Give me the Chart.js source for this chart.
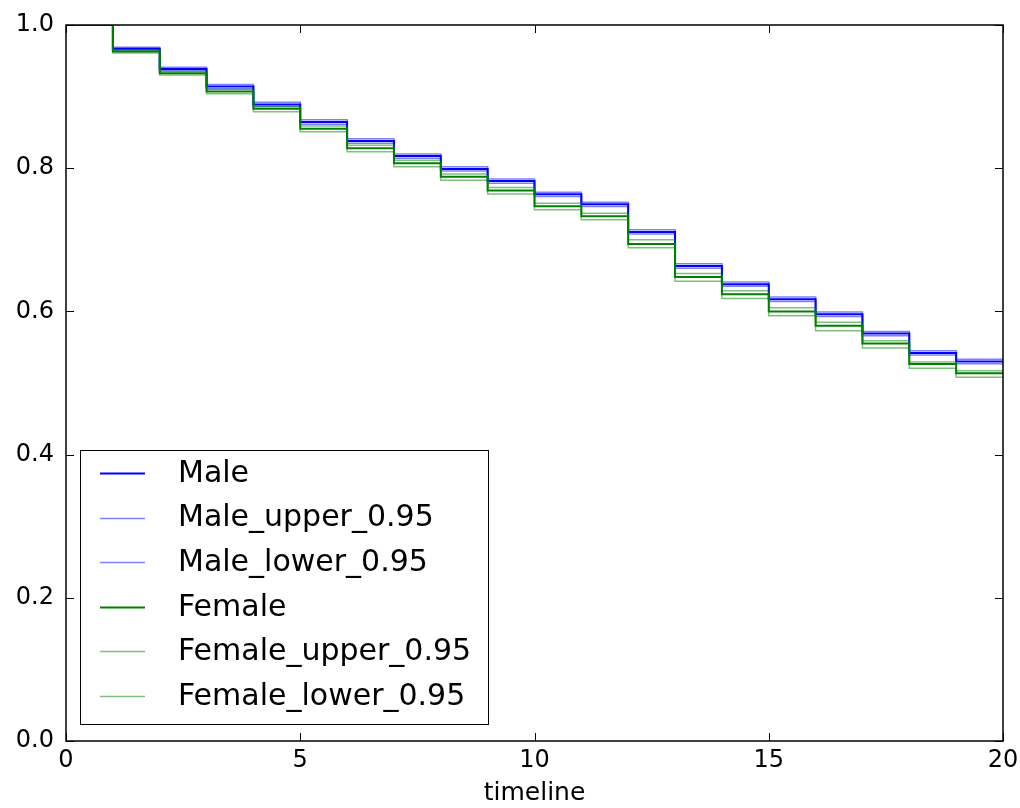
<!DOCTYPE html>
<html>
<head>
<meta charset="utf-8">
<script src="https://cdn.jsdelivr.net/npm/chart.js@4/dist/chart.umd.min.js"></script>
<style>
  html, body { margin: 0; padding: 0; background: #fff; }
  #wrap { width: 1020px; height: 808px; }
</style>
</head>
<body>
<div id="wrap"><canvas id="kmChart" width="1020" height="808"></canvas></div>
<script>
// timeline points (step values hold from x to x+1)
const timeline = [0, 1, 2, 3, 4, 5, 6, 7, 8, 9, 10, 11, 12, 13, 14, 15, 16, 17, 18, 19, 20];

const male = [1.0, 0.967, 0.9385, 0.914, 0.889, 0.8645, 0.838, 0.817, 0.799, 0.782, 0.7635, 0.7496, 0.711, 0.6634, 0.638, 0.617, 0.596, 0.569, 0.542, 0.530, 0.530];
const maleUpper = [1.0, 0.969, 0.941, 0.917, 0.892, 0.8675, 0.841, 0.820, 0.802, 0.785, 0.7665, 0.7526, 0.714, 0.6665, 0.641, 0.620, 0.599, 0.572, 0.545, 0.533, 0.533];
const maleLower = [1.0, 0.965, 0.936, 0.911, 0.886, 0.8615, 0.835, 0.814, 0.796, 0.779, 0.7605, 0.7466, 0.708, 0.6603, 0.635, 0.614, 0.593, 0.566, 0.539, 0.527, 0.527];

const female = [1.0, 0.963, 0.9325, 0.907, 0.883, 0.855, 0.828, 0.807, 0.788, 0.769, 0.747, 0.733, 0.694, 0.648, 0.624, 0.600, 0.580, 0.555, 0.5265, 0.5135, 0.5135];
const femaleUpper = [1.0, 0.965, 0.935, 0.910, 0.886, 0.859, 0.832, 0.811, 0.792, 0.773, 0.751, 0.737, 0.700, 0.653, 0.629, 0.605, 0.585, 0.559, 0.5295, 0.517, 0.517];
const femaleLower = [1.0, 0.961, 0.930, 0.904, 0.879, 0.851, 0.823, 0.802, 0.783, 0.764, 0.742, 0.728, 0.689, 0.642, 0.618, 0.594, 0.573, 0.549, 0.5205, 0.508, 0.508];

const xTicks = [0, 5, 10, 15, 20];
const yTicks = [0.0, 0.2, 0.4, 0.6, 0.8, 1.0];

const FONT = "'DejaVu Sans', sans-serif";

function pts(ys) {
  return timeline.map((x, i) => ({ x: x, y: ys[i] }));
}

function series(label, ys, color, width, order) {
  return {
    label: label,
    data: pts(ys),
    borderColor: color,
    borderWidth: width,
    stepped: true,
    pointRadius: 0,
    fill: false,
    order: order
  };
}

// frame + inward ticks like the old matplotlib style
const framePlugin = {
  id: "frame",
  afterDatasetsDraw(chart) {
    const { ctx, chartArea: a, scales } = chart;
    ctx.save();
    ctx.strokeStyle = "#000";
    ctx.lineWidth = 1;
    const tl = 8;
    xTicks.forEach(v => {
      const px = Math.round(scales.x.getPixelForValue(v)) + 0.5;
      ctx.beginPath();
      ctx.moveTo(px, a.bottom); ctx.lineTo(px, a.bottom - tl);
      ctx.moveTo(px, a.top); ctx.lineTo(px, a.top + tl);
      ctx.stroke();
    });
    yTicks.forEach(v => {
      const py = Math.round(scales.y.getPixelForValue(v)) + 0.5;
      ctx.beginPath();
      ctx.moveTo(a.left, py); ctx.lineTo(a.left + tl, py);
      ctx.moveTo(a.right, py); ctx.lineTo(a.right - tl, py);
      ctx.stroke();
    });
    ctx.lineWidth = 1.5;
    ctx.strokeRect(a.left, a.top, a.right - a.left, a.bottom - a.top);
    ctx.restore();
  }
};

// legend box in the lower left, drawn from the datasets
const legendPlugin = {
  id: "boxLegend",
  afterDraw(chart) {
    const ctx = chart.ctx;
    const ds = chart.data.datasets;
    ctx.save();
    ctx.fillStyle = "#fff";
    ctx.fillRect(80, 450, 408, 274);
    ctx.strokeStyle = "#000";
    ctx.lineWidth = 1;
    ctx.strokeRect(80.5, 450.5, 408, 274);
    ctx.font = "30px " + FONT;
    ctx.textBaseline = "middle";
    ds.forEach((d, i) => {
      const y = 473 + i * 44.6;
      ctx.strokeStyle = d.borderColor;
      ctx.lineWidth = d.borderWidth;
      ctx.beginPath();
      ctx.moveTo(100, Math.round(y) + 0.5);
      ctx.lineTo(145, Math.round(y) + 0.5);
      ctx.stroke();
      ctx.fillStyle = "#000";
      ctx.fillText(d.label, 178, y + 1);
    });
    ctx.restore();
  }
};

const bgPlugin = {
  id: "bg",
  beforeDraw(chart) {
    const ctx = chart.ctx;
    ctx.save();
    ctx.fillStyle = "#fff";
    ctx.fillRect(0, 0, chart.width, chart.height);
    ctx.restore();
  }
};

new Chart(document.getElementById("kmChart").getContext("2d"), {
  type: "line",
  data: {
    datasets: [
      series("Male", male, "rgb(0,0,255)", 2, 3),
      series("Male_upper_0.95", maleUpper, "rgba(0,0,255,0.5)", 1.5, 3),
      series("Male_lower_0.95", maleLower, "rgba(0,0,255,0.5)", 1.5, 3),
      series("Female", female, "rgb(0,128,0)", 2, 1),
      series("Female_upper_0.95", femaleUpper, "rgba(0,128,0,0.5)", 1.5, 2),
      series("Female_lower_0.95", femaleLower, "rgba(0,128,0,0.5)", 1.5, 2)
    ]
  },
  options: {
    responsive: false,
    animation: false,
    layout: { padding: { top: 25, right: 17, left: 0, bottom: 0 } },
    plugins: {
      legend: { display: false },
      tooltip: { enabled: false }
    },
    scales: {
      x: {
        type: "linear",
        min: 0,
        max: 20,
        afterBuildTicks: s => { s.ticks = xTicks.map(v => ({ value: v })); },
        afterFit: s => { s.height = 67; s.paddingLeft = 0; s.paddingRight = 0; },
        grid: { display: false, drawTicks: false },
        border: { display: false },
        ticks: {
          color: "#000",
          font: { family: FONT, size: 24 },
          padding: 5,
          maxRotation: 0,
          callback: v => String(v)
        },
        title: {
          display: true,
          text: "timeline",
          color: "#000",
          font: { family: FONT, size: 25 },
          padding: { top: 0, bottom: 0 }
        }
      },
      y: {
        type: "linear",
        min: 0,
        max: 1,
        afterBuildTicks: s => { s.ticks = yTicks.map(v => ({ value: v })); },
        afterFit: s => { s.width = 66; s.paddingTop = 0; s.paddingBottom = 0; },
        grid: { display: false, drawTicks: false },
        border: { display: false },
        ticks: {
          color: "#000",
          font: { family: FONT, size: 24 },
          padding: 12,
          callback: v => Number(v).toFixed(1)
        }
      }
    }
  },
  plugins: [bgPlugin, framePlugin, legendPlugin]
});
</script>
</body>
</html>
